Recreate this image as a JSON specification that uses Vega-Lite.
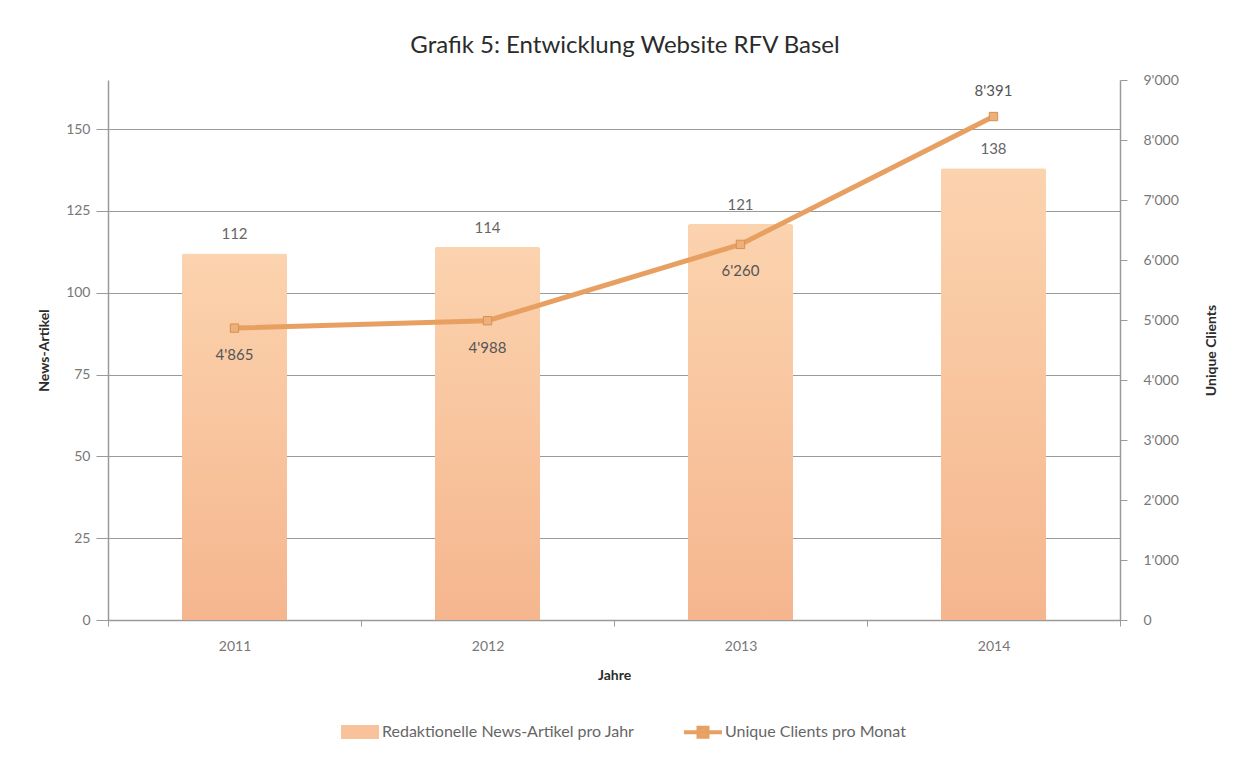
{
  "$schema": "https://vega.github.io/schema/vega-lite/v6.json",
  "width": 1012,
  "height": 540,
  "autosize": {"type": "none"},
  "padding": {"left": 108, "top": 80, "right": 127, "bottom": 140},
  "background": "white",
  "title": {
    "text": "Grafik 5: Entwicklung Website RFV Basel",
    "fontSize": 24,
    "font": "Lato",
    "fontWeight": "normal",
    "color": "#2b2b2b",
    "offset": 15,
    "anchor": "middle",
    "dx": 11
  },
  "config": {
    "view": {"stroke": null},
    "font": "Lato",
    "axis": {
      "labelFont": "Lato",
      "labelFontSize": 14,
      "labelColor": "#777777",
      "titleFont": "Lato",
      "titleFontSize": 14,
      "titleFontWeight": "bold",
      "titleColor": "#2b2b2b",
      "domainColor": "#9a9a9a",
      "tickColor": "#9a9a9a",
      "gridColor": "#9a9a9a"
    }
  },
  "data": {
    "values": [
      {"Jahr": "2011", "Artikel": 112, "Clients": 4865},
      {"Jahr": "2012", "Artikel": 114, "Clients": 4988},
      {"Jahr": "2013", "Artikel": 121, "Clients": 6260},
      {"Jahr": "2014", "Artikel": 138, "Clients": 8391}
    ]
  },
  "encoding": {
    "x": {
      "field": "Jahr",
      "type": "ordinal",
      "scale": {"paddingInner": 0, "paddingOuter": 0},
      "axis": {
        "title": "Jahre",
        "labelAngle": 0,
        "tickBand": "extent",
        "tickSize": 6,
        "labelPadding": 13,
        "titlePadding": 15,
        "domainWidth": 1.5,
        "grid": false
      }
    }
  },
  "layer": [
    {
      "encoding": {
        "y": {
          "field": "Artikel",
          "type": "quantitative",
          "scale": {"domain": [0, 165], "nice": false},
          "axis": {
            "title": "News-Artikel",
            "values": [0, 25, 50, 75, 100, 125, 150],
            "grid": true,
            "gridWidth": 1,
            "tickSize": 12,
            "labelPadding": 6,
            "titlePadding": 14,
            "domainWidth": 1.5
          }
        }
      },
      "layer": [
        {
          "mark": {
            "type": "bar",
            "width": {"band": 0.415},
            "cornerRadiusTopLeft": 2,
            "cornerRadiusTopRight": 2,
            "color": {
              "gradient": "linear",
              "x1": 0, "y1": 0, "x2": 0, "y2": 1,
              "stops": [
                {"offset": 0, "color": "#FBD3AE"},
                {"offset": 1, "color": "#F5B68E"}
              ]
            }
          }
        },
        {
          "mark": {"type": "text", "dy": -19, "fontSize": 15, "color": "#666666", "baseline": "middle"},
          "encoding": {"text": {"field": "Artikel", "type": "quantitative"}}
        }
      ]
    },
    {
      "encoding": {
        "y": {
          "field": "Clients",
          "type": "quantitative",
          "scale": {"domain": [0, 9000], "nice": false},
          "axis": {
            "orient": "right",
            "title": "Unique Clients",
            "titleAngle": 270,
            "values": [0, 1000, 2000, 3000, 4000, 5000, 6000, 7000, 8000, 9000],
            "labelExpr": "replace(format(datum.value, ','), ',', \"'\")",
            "grid": false,
            "tickSize": 7,
            "labelPadding": 16,
            "titlePadding": 40,
            "domainWidth": 1.5
          }
        }
      },
      "layer": [
        {
          "mark": {"type": "line", "strokeWidth": 5, "color": "#E8A062"},
          "encoding": {
            "color": {
              "datum": "Unique Clients pro Monat",
              "scale": {
                "domain": ["Redaktionelle News-Artikel pro Jahr", "Unique Clients pro Monat"],
                "range": ["#F8C29A", "#E8A062"]
              },
              "legend": {
                "title": null,
                "orient": "none",
                "legendX": 240,
                "legendY": 640,
                "direction": "horizontal",
                "labelFont": "Lato",
                "labelFontSize": 16,
                "labelColor": "#666666",
                "labelLimit": 0,
                "symbolSize": 400,
                "labelOffset": 10,
                "columnPadding": 41,
                "symbolStrokeWidth": 4,
                "encode": {
                  "symbols": {
                    "update": {
                      "shape": {"signal": "datum.value === 'Unique Clients pro Monat' ? 'M-1.9,0H1.9M-0.45,-0.45H0.45V0.45H-0.45Z' : 'M-1.7,-0.5H1.7V0.5H-1.7Z'"},
                      "fill": {"signal": "datum.value === 'Unique Clients pro Monat' ? '#EDB27E' : '#F8C29A'"},
                      "stroke": {"signal": "datum.value === 'Unique Clients pro Monat' ? '#E8A062' : '#F8C29A'"},
                      "strokeWidth": {"value": 4},
                      "opacity": {"value": 1}
                    }
                  }
                }
              }
            }
          }
        },
        {
          "mark": {"type": "point", "shape": "square", "size": 70, "filled": true, "fill": "#EDB07C", "stroke": "#D98F4E", "strokeWidth": 1, "opacity": 1}
        },
        {
          "transform": [{"filter": "datum.Jahr !== '2014'"}],
          "mark": {"type": "text", "dy": 27, "fontSize": 15, "color": "#555555", "baseline": "middle", "text": {"expr": "replace(format(datum.Clients, ','), ',', \"'\")"}}
        },
        {
          "transform": [{"filter": "datum.Jahr === '2014'"}],
          "mark": {"type": "text", "dy": -26, "fontSize": 15, "color": "#555555", "baseline": "middle", "text": {"expr": "replace(format(datum.Clients, ','), ',', \"'\")"}}
        }
      ]
    }
  ],
  "resolve": {"scale": {"y": "independent"}}
}
